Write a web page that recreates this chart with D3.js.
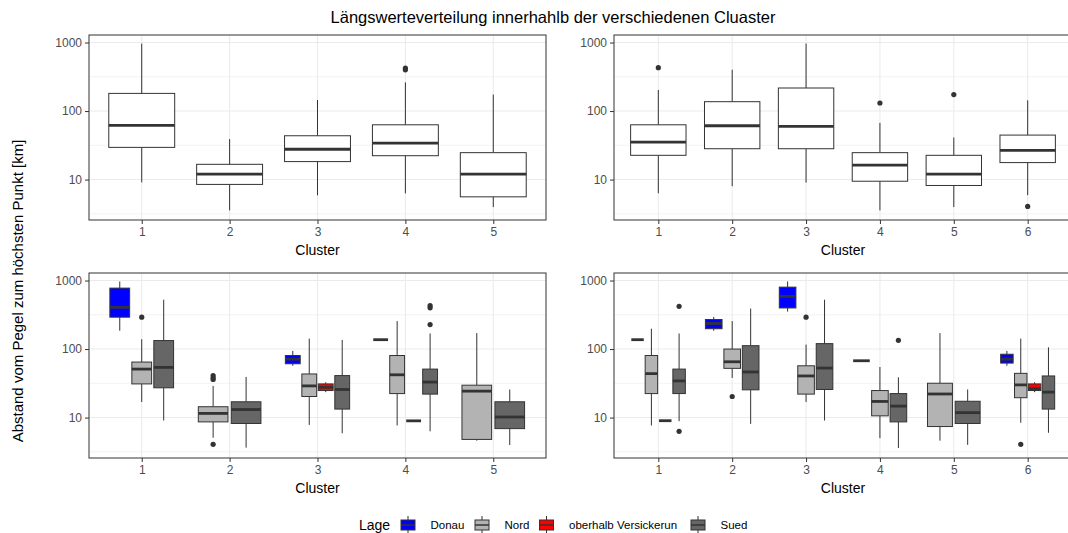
<!DOCTYPE html>
<html>

<head>
    <title>Längswerteverteilung</title>
    <script src="https://cdnjs.cloudflare.com/ajax/libs/d3/7.8.5/d3.min.js"></script>
    <style>
        html,
        body {
            margin: 0;
            padding: 0;
            background-color: #FFFFFF;
            font-family: 'Liberation Sans', Arial, sans-serif;
            overflow: hidden;
        }

        .tick text {
            fill: #4D4D4D;
            font-size: 12px;
        }

        .tick line {
            stroke: #333333;
        }

        .axis-title {
            font-size: 14px;
            fill: #000000;
        }
    </style>
</head>

<body>
    <div id="chart"></div>

    <script>
        const clusters5 = ['1', '2', '3', '4', '5'];
        const clusters6 = ['1', '2', '3', '4', '5', '6'];
        const yTicks = [10, 100, 1000];

        const lagen = ['Donau', 'Nord', 'oberhalb Versickerun', 'Sued'];
        const lageFarben = ['#0000FF', '#B3B3B3', '#FF0000', '#666666'];

        // je Box: [unterer Whisker, Q1, Median, Q3, oberer Whisker]
        const obenLinksCluster = ['1', '2', '3', '4', '5'];
        const obenLinksBox = [
            [9.1, 29.5, 62, 181, 965],
            [3.55, 8.5, 12, 16.7, 39],
            [5.9, 18.3, 27.7, 43.6, 145],
            [6.3, 22.3, 34, 63, 262],
            [3.97, 5.6, 12, 24.7, 174]
        ];
        const obenLinksAusreisser = [[], [], [], [400, 425], []];

        const obenRechtsCluster = ['1', '2', '3', '4', '5', '6'];
        const obenRechtsBox = [
            [6.3, 22.6, 35.2, 63, 203],
            [8.0, 28.2, 61, 137, 401],
            [9.04, 28.2, 59.6, 217, 967],
            [3.55, 9.46, 16.3, 24.7, 67.3],
            [3.97, 8.2, 12, 22.6, 41.2],
            [5.92, 17.7, 26.7, 44.6, 143.7]
        ];
        const obenRechtsAusreisser = [[429], [], [], [131], [174], [4.06]];

        const untenLinksCluster = ['1', '1', '1', '2', '2', '3', '3', '3', '3', '4', '4', '4', '4', '5', '5'];
        const untenLinksLage = ['Donau', 'Nord', 'Sued', 'Nord', 'Sued', 'Donau', 'Nord', 'oberhalb Versickerun', 'Sued',
            'Donau', 'Nord', 'oberhalb Versickerun', 'Sued', 'Nord', 'Sued'];
        const untenLinksBox = [
            [185, 292, 407, 775, 968],
            [16.9, 31, 51, 64.6, 139],
            [9.05, 27.2, 54, 133, 525],
            [5.08, 8.65, 11.5, 14.4, 29],
            [3.64, 8.2, 13.1, 17, 39.2],
            [57, 61, 71.3, 80.5, 94],
            [7.8, 20.3, 29, 43.3, 142],
            [23.5, 24.8, 27.7, 31, 32.8],
            [5.9, 13.3, 25.7, 41, 136],
            [137, 137, 137, 137, 137],
            [7.66, 22.4, 42.1, 80.5, 256],
            [8.96, 8.96, 8.96, 8.96, 8.96],
            [6.3, 22, 33, 51, 169],
            [4.6, 4.8, 24.3, 29.7, 171],
            [3.98, 6.9, 10.2, 17, 25.7]
        ];
        const untenLinksAusreisser = [[], [292], [], [41, 38, 36, 4.07], [], [], [], [], [],
            [], [], [], [430, 400, 228], [], []];

        const untenRechtsCluster = ['1', '1', '1', '1', '2', '2', '2', '3', '3', '3', '4', '4', '4', '5', '5', '6', '6', '6', '6'];
        const untenRechtsLage = ['Donau', 'Nord', 'oberhalb Versickerun', 'Sued', 'Donau', 'Nord', 'Sued',
            'Donau', 'Nord', 'Sued', 'Donau', 'Nord', 'Sued', 'Nord', 'Sued',
            'Donau', 'Nord', 'oberhalb Versickerun', 'Sued'];
        const untenRechtsBox = [
            [137, 137, 137, 137, 137],
            [7.66, 22.4, 43.8, 80.5, 198],
            [9, 9, 9, 9, 9],
            [8.85, 22.4, 34.3, 51, 169],
            [185, 198, 236, 270, 295],
            [37.9, 52.3, 65.2, 100, 256],
            [8.1, 25.4, 46.3, 112, 390],
            [352, 398, 587, 801, 968],
            [16.9, 22, 40.5, 57, 116],
            [9.05, 25.7, 52.8, 120, 525],
            [67.5, 67.5, 67.5, 67.5, 67.5],
            [5.0, 10.6, 17.2, 24.8, 54.7],
            [3.6, 8.65, 14.7, 22.4, 38.7],
            [4.6, 7.4, 22.1, 31.7, 171],
            [4.0, 8.2, 11.8, 17.3, 25.7],
            [57, 62.4, 71.3, 84, 94],
            [8.4, 19.5, 30, 44.2, 142],
            [23.5, 24.8, 26.3, 31, 32.8],
            [6.0, 13.3, 23.5, 40.5, 106]
        ];
        const untenRechtsAusreisser = [[], [], [], [421, 6.3], [], [20.3], [], [], [292], [],
            [], [], [134], [], [], [], [4.07], [], []];

        const width = 1068;
        const height = 533;
        const panelW = 457;
        const panelH = 185;
        const yDomain = [Math.pow(10, 0.41), Math.pow(10, 3.11)];

        const svg = d3.select('#chart')
            .append('svg')
            .attr('width', width)
            .attr('height', height);

        svg.append('rect')
            .attr('width', width)
            .attr('height', height)
            .attr('fill', '#FFFFFF');

        function drawPanel(x0, y0, w, clusters, boxCluster, boxLage, boxStats, boxOut) {
            const g = svg.append('g').attr('transform', `translate(${x0},${y0})`);

            const x = d3.scalePoint().domain(clusters).range([0, w]).padding(0.6);
            const y = d3.scaleLog().domain(yDomain).range([panelH, 0]);
            const step = x.step();

            g.append('rect')
                .attr('width', w)
                .attr('height', panelH)
                .attr('fill', '#FFFFFF');

            // Gitter
            const minor = [Math.pow(10, 0.5), Math.pow(10, 1.5), Math.pow(10, 2.5)];
            g.selectAll('.minor')
                .data(minor)
                .enter()
                .append('line')
                .attr('x1', 0).attr('x2', w)
                .attr('y1', d => y(d)).attr('y2', d => y(d))
                .attr('stroke', '#EBEBEB')
                .attr('stroke-width', 0.6);
            g.selectAll('.major-y')
                .data(yTicks)
                .enter()
                .append('line')
                .attr('x1', 0).attr('x2', w)
                .attr('y1', d => y(d)).attr('y2', d => y(d))
                .attr('stroke', '#EBEBEB')
                .attr('stroke-width', 1.1);
            g.selectAll('.major-x')
                .data(clusters)
                .enter()
                .append('line')
                .attr('x1', d => x(d)).attr('x2', d => x(d))
                .attr('y1', 0).attr('y2', panelH)
                .attr('stroke', '#EBEBEB')
                .attr('stroke-width', 1.1);

            // Boxen mit dodge
            const boxes = boxStats.map((s, i) => {
                const c = boxCluster[i];
                const lage = boxLage ? boxLage[i] : null;
                const same = boxCluster
                    .map((cc, j) => ({ cc, j }))
                    .filter(o => o.cc === c)
                    .map(o => o.j);
                const n = same.length;
                const k = same.indexOf(i);
                const slot = 0.75 / n;
                const cx = x(c) + step * (-0.375 + slot * (k + 0.5));
                const bw = step * slot * (n > 1 ? 0.9 : 1);
                return {
                    cx, bw, s, out: boxOut[i],
                    fill: lage ? lageFarben[lagen.indexOf(lage)] : '#FFFFFF'
                };
            });

            const bg = g.selectAll('.box')
                .data(boxes)
                .enter()
                .append('g')
                .attr('class', 'box');

            bg.append('line')
                .attr('x1', d => d.cx).attr('x2', d => d.cx)
                .attr('y1', d => y(d.s[0])).attr('y2', d => y(d.s[1]))
                .attr('stroke', '#333333');
            bg.append('line')
                .attr('x1', d => d.cx).attr('x2', d => d.cx)
                .attr('y1', d => y(d.s[3])).attr('y2', d => y(d.s[4]))
                .attr('stroke', '#333333');
            bg.append('rect')
                .attr('x', d => d.cx - d.bw / 2)
                .attr('y', d => y(d.s[3]))
                .attr('width', d => d.bw)
                .attr('height', d => y(d.s[1]) - y(d.s[3]))
                .attr('fill', d => d.fill)
                .attr('stroke', '#333333')
                .attr('stroke-width', 1);
            bg.append('line')
                .attr('x1', d => d.cx - d.bw / 2).attr('x2', d => d.cx + d.bw / 2)
                .attr('y1', d => y(d.s[2])).attr('y2', d => y(d.s[2]))
                .attr('stroke', '#333333')
                .attr('stroke-width', 2.8);
            bg.selectAll('circle')
                .data(d => d.out.map(v => ({ v, cx: d.cx })))
                .enter()
                .append('circle')
                .attr('cx', d => d.cx)
                .attr('cy', d => y(d.v))
                .attr('r', 2.6)
                .attr('fill', '#333333');

            g.append('rect')
                .attr('width', w)
                .attr('height', panelH)
                .attr('fill', 'none')
                .attr('stroke', '#333333')
                .attr('stroke-width', 1);

            const yAxis = d3.axisLeft(y)
                .tickValues(yTicks)
                .tickFormat(d3.format('d'))
                .tickSize(4)
                .tickPadding(3);
            g.append('g').call(yAxis).call(a => a.select('.domain').remove())
                .selectAll('text').style('font-family', "'Liberation Sans', Arial, sans-serif");

            const xAxis = d3.axisBottom(x)
                .tickSize(4)
                .tickPadding(3);
            g.append('g')
                .attr('transform', `translate(0,${panelH})`)
                .call(xAxis).call(a => a.select('.domain').remove())
                .selectAll('text').style('font-family', "'Liberation Sans', Arial, sans-serif");

            g.append('text')
                .attr('class', 'axis-title')
                .attr('x', w / 2)
                .attr('y', panelH + 35)
                .attr('text-anchor', 'middle')
                .text('Cluster');
        }

        drawPanel(89, 35, panelW, clusters5, obenLinksCluster, null, obenLinksBox, obenLinksAusreisser);
        drawPanel(614, 35, panelW + 1, clusters6, obenRechtsCluster, null, obenRechtsBox, obenRechtsAusreisser);
        drawPanel(89, 273, panelW, clusters5, untenLinksCluster, untenLinksLage, untenLinksBox, untenLinksAusreisser);
        drawPanel(614, 273, panelW + 1, clusters6, untenRechtsCluster, untenRechtsLage, untenRechtsBox, untenRechtsAusreisser);

        svg.append('text')
            .attr('x', 553)
            .attr('y', 23)
            .attr('text-anchor', 'middle')
            .style('font-size', '16.5px')
            .text('Längswerteverteilung innerhahlb der verschiedenen Cluaster');

        svg.append('text')
            .attr('class', 'axis-title')
            .attr('transform', 'translate(23,291) rotate(-90)')
            .attr('text-anchor', 'middle')
            .style('font-size', '15px')
            .text('Abstand vom Pegel zum höchsten Punkt [km]');

        // Legende
        const legendY = 525;
        svg.append('text')
            .attr('x', 359)
            .attr('y', legendY + 5)
            .style('font-size', '14px')
            .text('Lage');

        const keyX = [408, 482, 546.5, 698];
        const key = svg.selectAll('.key')
            .data(lagen)
            .enter()
            .append('g')
            .attr('class', 'key')
            .attr('transform', (d, i) => `translate(${keyX[i]},${legendY})`);

        key.append('line')
            .attr('x1', 0).attr('x2', 0)
            .attr('y1', -9).attr('y2', 8)
            .attr('stroke', '#333333');
        key.append('rect')
            .attr('x', -7).attr('y', -5)
            .attr('width', 14).attr('height', 10)
            .attr('fill', (d, i) => lageFarben[i])
            .attr('stroke', '#333333');
        key.append('line')
            .attr('x1', -7).attr('x2', 7)
            .attr('y1', 0).attr('y2', 0)
            .attr('stroke', '#333333')
            .attr('stroke-width', 1.5);
        key.append('text')
            .attr('x', 22.5)
            .attr('y', 4)
            .style('font-size', '11.5px')
            .text(d => d);
    </script>
</body>

</html>
